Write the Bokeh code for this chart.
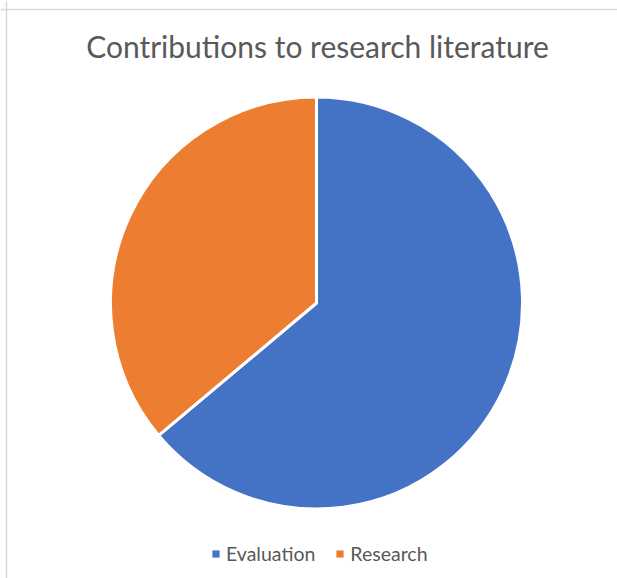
import math
from bokeh.plotting import figure
from bokeh.models import ColumnDataSource, Legend, LegendItem, Label, Span, Range1d
from bokeh.embed import file_html
from bokeh.resources import INLINE

categories = ["Evaluation", "Research"]
values = [23, 13]
colors = ["#4472C4", "#ED7D31"]
title_text = "Contributions to research literature"

W, H = 617, 578
total = float(sum(values))
starts, ends = [], []
acc = 0.0
for v in values:
    starts.append(math.pi / 2 - acc / total * 2 * math.pi)
    acc += v
    ends.append(math.pi / 2 - acc / total * 2 * math.pi)

src = ColumnDataSource(dict(cat=categories, val=values, color=colors,
                            start=starts, end=ends))

p = figure(width=W, height=H, output_backend="svg", toolbar_location=None,
           x_range=Range1d(0, W), y_range=Range1d(0, H),
           min_border=0, outline_line_color=None)
p.axis.visible = False
p.grid.visible = False
p.background_fill_color = "white"
p.border_fill_color = "white"

p.wedge(x=316, y=275.5, radius=206, start_angle="start", end_angle="end",
        direction="clock", fill_color="color", line_color="white",
        line_width=3, source=src)

# invisible twin used only for the legend swatches
swatch = p.wedge(x=316, y=275.5, radius=0, start_angle="start", end_angle="end",
                 direction="clock", fill_color="color", line_color=None,
                 source=src)

# chart area border (top and left visible)
p.add_layout(Span(location=H - 9, dimension="width", line_color="#d9d9d9", line_width=1.5))
p.add_layout(Span(location=6, dimension="height", line_color="#d9d9d9", line_width=1.5))

p.add_layout(Label(x=317, y=533, text=title_text, text_align="center",
                   text_baseline="alphabetic", text_font="Lato",
                   text_font_size="30px", text_color="#595959"))

items = [LegendItem(label=cat, renderers=[swatch], index=i)
         for i, cat in enumerate(categories)]

legend = Legend(items=items, orientation="horizontal", location=(211, 13.5),
                glyph_width=9, glyph_height=9, label_standoff=6, spacing=20,
                label_text_font="Lato", label_text_font_size="19.5px",
                label_text_color="#595959", label_height=20,
                border_line_color=None, background_fill_alpha=0,
                padding=0, margin=0)
p.add_layout(legend, "center")

open("out.html", "w").write(file_html(p, INLINE))
